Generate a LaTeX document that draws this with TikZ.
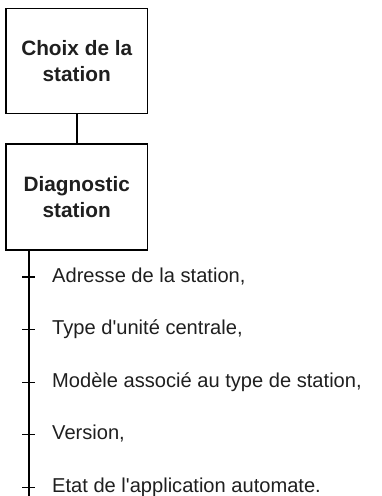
\documentclass[tikz,border=0pt]{standalone}
\usepackage{fontspec}
\setmainfont{Liberation Sans}
\begin{document}
\begin{tikzpicture}[x=1pt,y=-1pt,
  stepbox/.style={draw, line width=1.8pt, rectangle, inner sep=0pt, outer sep=0pt,
    minimum width=141.5pt, align=center, text=black!88,
    font=\bfseries\fontsize{20.8}{26}\selectfont},
  link/.style={line width=1.8pt},
  tick/.style={line width=1.1pt},
  item/.style={anchor=base west, inner sep=0pt, text=black!88,
    font=\fontsize{20.1}{24}\selectfont}]
\useasboundingbox (0,0) rectangle (381,496);

% the two steps
\node[stepbox, minimum height=105pt] (choix) at (76.75,61) {Choix de la\\station};
\node[stepbox, minimum height=106pt] (diag) at (76.75,197) {Diagnostic\\station};
\draw[link] (choix) -- (diag);

% trunk of the list
\coordinate (top) at (29,250);
\coordinate (bot) at (29,496);
\draw[link] (top) -- (bot);

% list items with their ticks
\foreach \i/\txt in {0/{Adresse de la station,},
                     1/{Type d\textquotesingle unité centrale,},
                     2/{Modèle associé au type de station,},
                     3/{Version,},
                     4/{Etat de l\textquotesingle application automate.}}{
  \pgfmathsetmacro{\yb}{282+52.6*\i}
  \node[item] (it\i) at (52,\yb) {\txt};
  \coordinate (tk\i) at (29,\yb-5);
  \draw[tick] ([xshift=-7pt]tk\i) -- ([xshift=6pt]tk\i);
}
\end{tikzpicture}
\end{document}
